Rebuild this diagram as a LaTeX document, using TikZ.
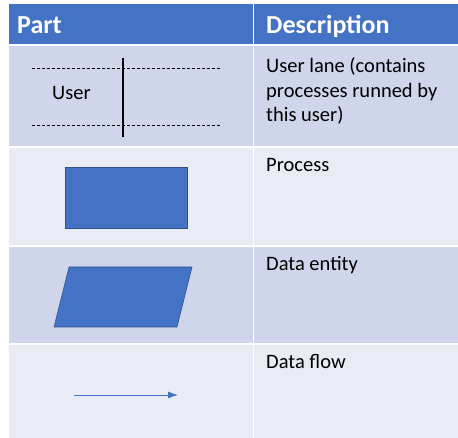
\documentclass[tikz,border=0pt]{standalone}
\usepackage{fontspec}
\setmainfont{Carlito}
\usetikzlibrary{arrows.meta,positioning}
\definecolor{hdrblue}{HTML}{4472C4}
\definecolor{rowdark}{HTML}{CFD5EA}
\definecolor{rowlight}{HTML}{E9EBF5}
\definecolor{shapeedge}{HTML}{2F528F}
\tikzset{
  hdrtext/.style={anchor=base west,inner sep=0pt,text=white,font=\bfseries\fontsize{26}{30}\selectfont},
  celltext/.style={anchor=base west,inner sep=0pt,align=left,font=\fontsize{20.5}{24.5}\selectfont},
  blueshape/.style={fill=hdrblue,draw=shapeedge,line width=0.6pt},
  lane/.style={dash pattern=on 3pt off 2pt,line width=0.6pt},
  flow/.style={hdrblue,line width=0.8pt,-{Latex[length=10pt,width=7pt]}}
}

\begin{document}
\begin{tikzpicture}[x=1pt,y=-1pt]
\useasboundingbox (0,0) rectangle (458,438);
% table rows
\fill[hdrblue] (9,4) rectangle (458,44.5);
\fill[rowdark] (9,46.5) rectangle (458,146);
\fill[rowlight] (9,148) rectangle (458,245);
\fill[rowdark] (9,247) rectangle (458,343);
\fill[rowlight] (9,345) rectangle (458,438);
\draw[white,line width=1.5pt] (253.5,4)--(253.5,438);
% header
\node[hdrtext] (part) at (17,34) {Part};
\node[hdrtext] (desc) at (266,34) {Description};
% user lane
\draw[lane] (32,68)--(220,68) (32,125)--(220,125);
\draw[line width=1.5pt] (123,58)--(123,137);
\node[celltext] (user) at (52,100) {User};
\node[celltext] (lanetext) at (266,122) {User lane (contains\\processes runned by\\this user)};
% process
\node[blueshape,minimum width=122pt,minimum height=61pt,inner sep=0pt] (process) at (126,197.5) {};
\node[celltext] (proctext) at (266,172) {Process};
% data entity
\draw[blueshape] (69,267)--(192,267)--(177,327)--(54,327)--cycle;
\node[celltext] (datatext) at (266,271) {Data entity};
% data flow
\coordinate (flowstart) at (74,395);
\coordinate (flowend) at (178,395);
\draw[flow] (flowstart)--(flowend);
\node[celltext] (flowtext) at (266,369) {Data flow};
\end{tikzpicture}
\end{document}
